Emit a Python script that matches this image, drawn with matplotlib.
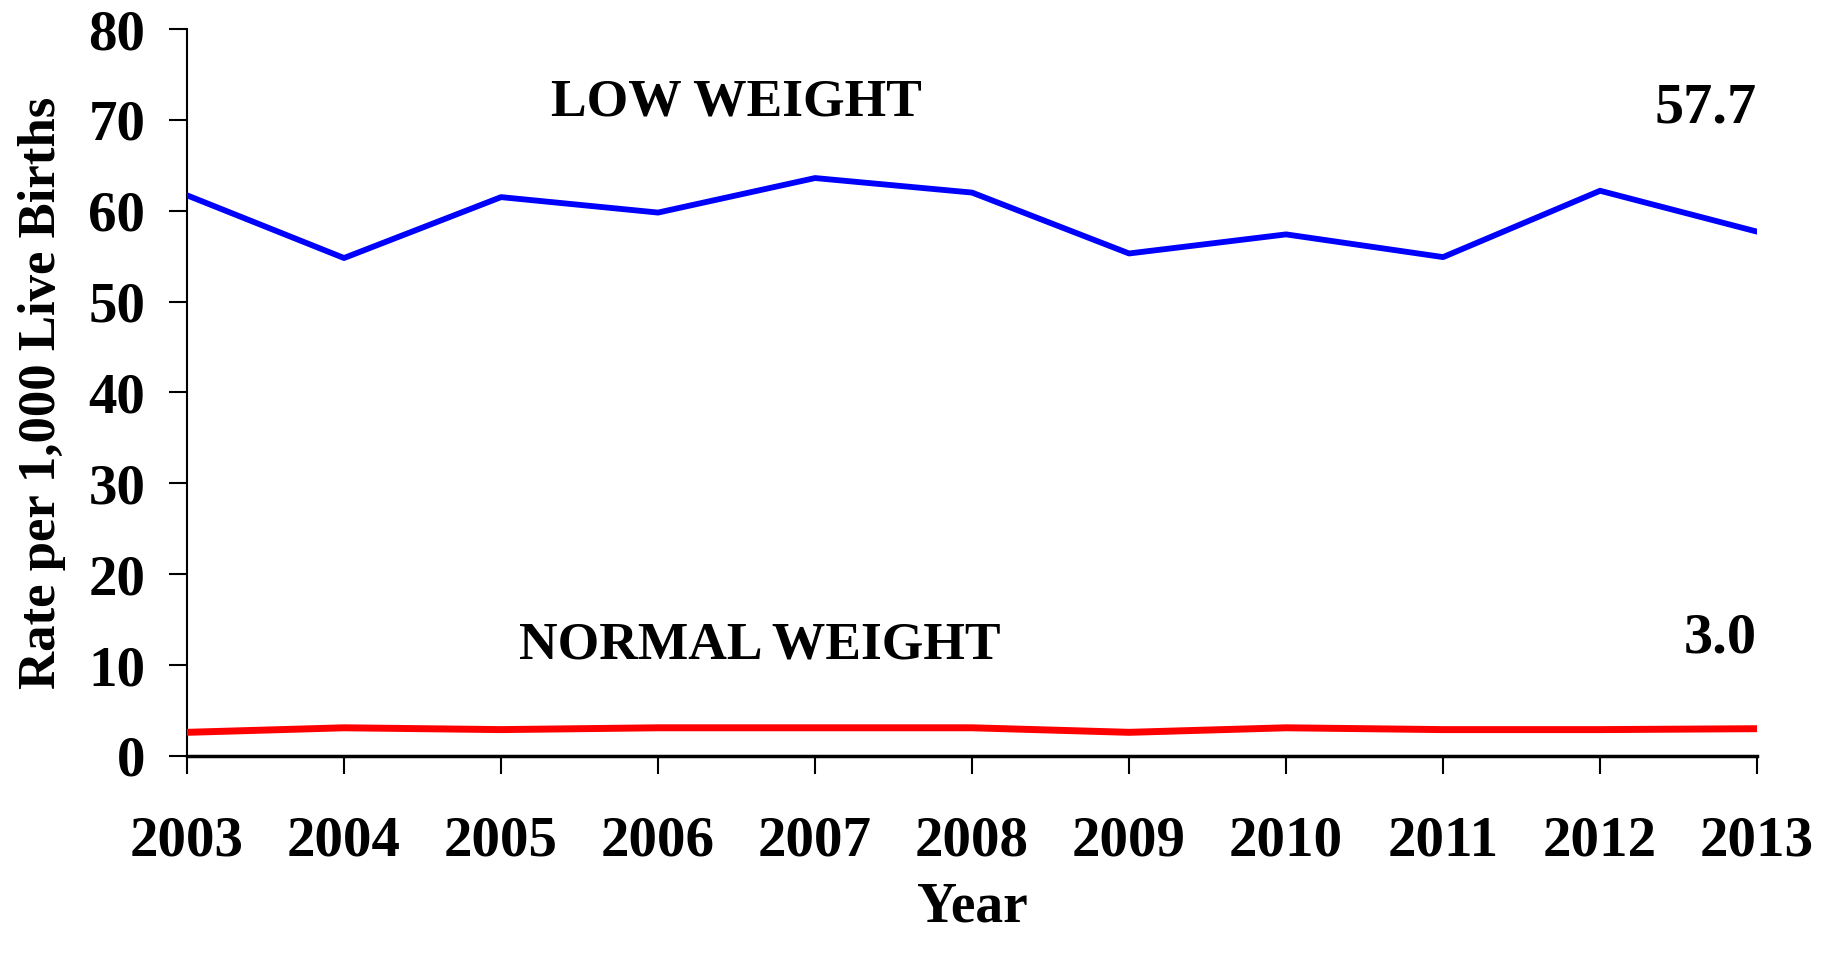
import matplotlib.pyplot as plt

# data
years = [2003, 2004, 2005, 2006, 2007, 2008, 2009, 2010, 2011, 2012, 2013]
low_weight = [61.7, 54.8, 61.5, 59.8, 63.6, 62.0, 55.3, 57.4, 54.9, 62.2, 57.7]
normal_weight = [2.6, 3.1, 2.9, 3.1, 3.1, 3.1, 2.6, 3.1, 2.9, 2.9, 3.0]
y_ticks = [0, 10, 20, 30, 40, 50, 60, 70, 80]

plt.rcParams['font.family'] = ['Liberation Serif', 'DejaVu Serif']
plt.rcParams['font.weight'] = 'bold'

fig = plt.figure(figsize=(18.37, 9.58), dpi=100)
ax = fig.add_axes([0.1018, 0.2109, 0.8547, 0.7588])

ax.plot(years, low_weight, color='#0000ff', linewidth=4.2, solid_capstyle='round')
ax.plot(years, normal_weight, color='#ff0000', linewidth=5.0, solid_capstyle='round')

ax.set_xlim(years[0], years[-1])
ax.set_ylim(0, 80)
ax.set_xticks(years)
ax.set_yticks(y_ticks)
ax.tick_params(axis='both', direction='out', length=13, width=1.5, labelsize=41)
ax.tick_params(axis='x', pad=30)
ax.tick_params(axis='y', pad=17)
for lab in ax.get_xticklabels() + ax.get_yticklabels():
    lab.set_fontweight('bold')

for side in ['top', 'right']:
    ax.spines[side].set_visible(False)
ax.spines['left'].set_linewidth(1.5)
ax.spines['bottom'].set_linewidth(2.5)
ax.spines['left'].set_zorder(1)
ax.spines['bottom'].set_zorder(1)

ax.set_xlabel('Year', fontsize=40, fontweight='bold', labelpad=10)
ax.set_ylabel('Rate per 1,000 Live Births', fontsize=38, fontweight='bold', labelpad=16)

# series labels and last values
ax.text(2006.5, 71.9, 'LOW WEIGHT', fontsize=38.5, fontweight='bold',
        ha='center', va='center')
ax.text(2006.65, 12.2, 'NORMAL WEIGHT', fontsize=38.5, fontweight='bold',
        ha='center', va='center')
ax.text(2013, 71.3, f'{low_weight[-1]:.1f}', fontsize=42, fontweight='bold',
        ha='right', va='center')
ax.text(2013, 12.9, f'{normal_weight[-1]:.1f}', fontsize=42, fontweight='bold',
        ha='right', va='center')

fig.savefig('out.png', dpi=100)
